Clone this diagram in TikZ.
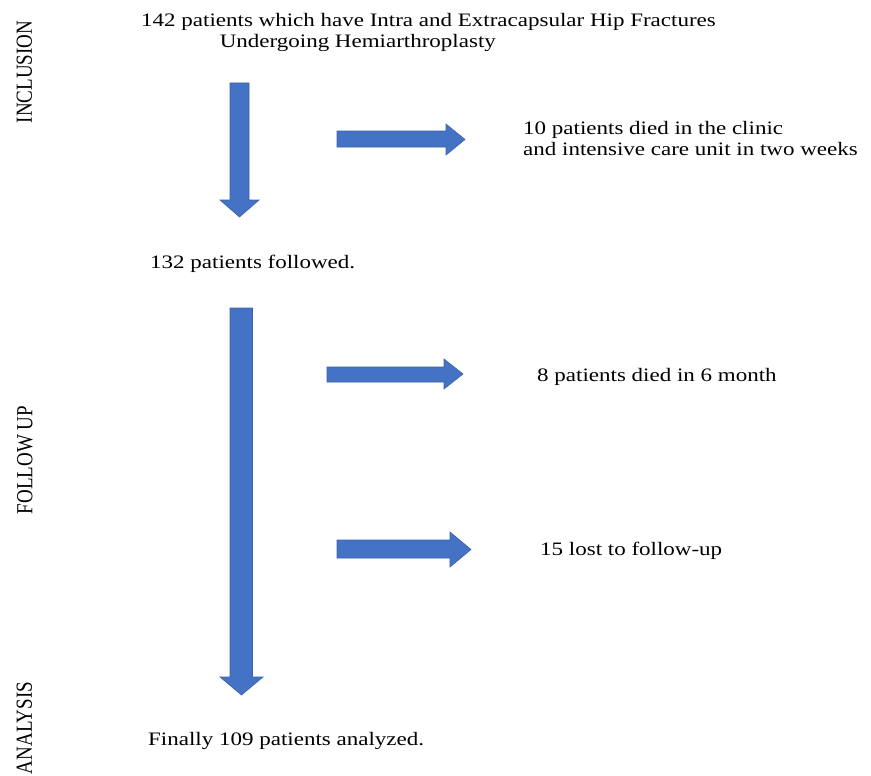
\documentclass[tikz,border=0pt]{standalone}
\usepackage{fontspec}
\setmainfont{Liberation Serif}
\usepackage{graphicx}
\definecolor{arrfill}{HTML}{4472C4}
\definecolor{arredge}{HTML}{3A62AC}
\newcommand{\wtxt}[1]{\scalebox{1.21}[1]{\begin{tabular}[t]{@{}l@{}}#1\end{tabular}}}
\newcommand{\vtxt}[1]{\scalebox{1}[1.21]{#1}}
\begin{document}
\begin{tikzpicture}[x=1pt,y=-1pt,
  lbl/.style={font=\fontsize{19}{21}\selectfont, inner sep=0pt, anchor=base west},
  side/.style={font=\fontsize{19}{21}\selectfont, inner sep=0pt, rotate=90, anchor=center},
  blk/.style={fill=arrfill, draw=arredge, line width=0.6pt, line join=miter}]
\useasboundingbox (0,0) rectangle (871,776);
\fill[white] (0,0) rectangle (871,776);

% side labels
\node[side] (inc) at (24.5,72) {\vtxt{INCLUSION}};
\node[side] (fol) at (25,460) {\vtxt{FOLLOW UP}};
\node[side] (ana) at (24.5,728) {\vtxt{ANALYSIS}};

% texts
\node[lbl] (title) at (141,27) {\wtxt{142 patients which have Intra and Extracapsular Hip Fractures\\ \hspace*{65pt}Undergoing Hemiarthroplasty}};
\node[lbl] (died1) at (523,134) {\wtxt{10 patients died in the clinic\\and intensive care unit in two weeks}};
\node[lbl] (followed) at (150,268) {\wtxt{132 patients followed.}};
\node[lbl] (died2) at (537,381) {\wtxt{8 patients died in 6 month}};
\node[lbl] (lost) at (540,555) {\wtxt{15 lost to follow-up}};
\node[lbl] (final) at (148,745) {\wtxt{Finally 109 patients analyzed.}};

% block arrows
\draw[blk] (230,83) -- (249,83) -- (249,200) -- (259,200) -- (239.5,217) -- (220,200) -- (230,200) -- cycle;
\draw[blk] (337,131) -- (446,131) -- (446,124) -- (465,139.5) -- (446,155) -- (446,147) -- (337,147) -- cycle;
\draw[blk] (230,308) -- (252.5,308) -- (252.5,677) -- (263,677) -- (241.5,695) -- (220,677) -- (230,677) -- cycle;
\draw[blk] (327,367) -- (444,367) -- (444,359) -- (463,374) -- (444,389) -- (444,382) -- (327,382) -- cycle;
\draw[blk] (337,540) -- (450,540) -- (450,532) -- (471,549.5) -- (450,567) -- (450,558) -- (337,558) -- cycle;
\end{tikzpicture}
\end{document}
